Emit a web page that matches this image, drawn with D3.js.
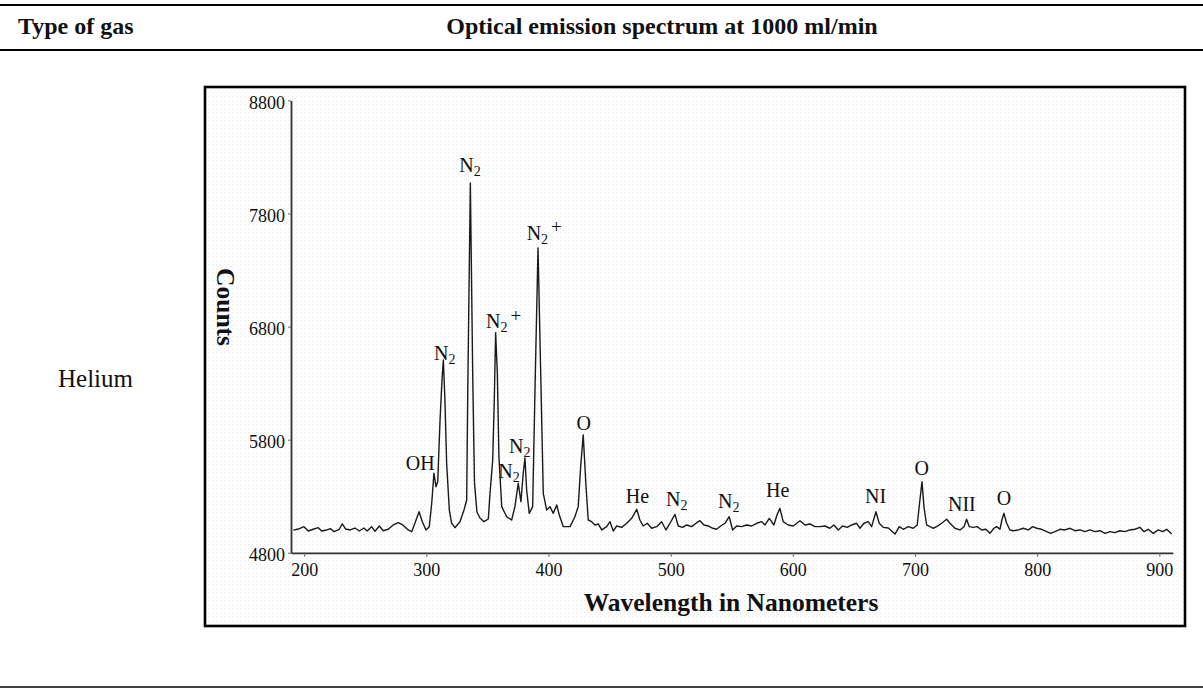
<!DOCTYPE html>
<html>
<head>
<meta charset="utf-8">
<script src="https://cdn.jsdelivr.net/npm/d3@7"></script>
<style>
  html, body { margin: 0; padding: 0; background: #ffffff; }
  svg { display: block; }
  text { font-family: "Liberation Serif", "Times New Roman", serif; fill: #111; }
</style>
</head>
<body>
<svg id="chart" width="1203" height="697"></svg>
<script>
// ---------------- data ----------------
const wavelengths = [
  191.1,195.2,199.8,203.4,207.4,211.5,214.3,218.4,221.7,224.4,
  228.7,231.2,234.0,237.5,241.6,245.1,248.9,251.6,255.2,258.0,
  261.5,264.7,268.8,272.9,277.0,280.6,285.2,288.0,290.7,294.0,
  296.7,299.7,302.4,304.4,306.2,307.9,309.3,311.2,312.8,313.9,
  315.2,316.6,318.8,320.7,323.4,327.5,330.8,333.0,333.9,336.0,
  338.0,339.4,341.4,343.9,347.2,350.7,352.1,354.3,355.6,356.7,
  358.1,359.4,361.7,365.7,369.8,372.5,375.2,377.4,379.3,380.7,
  382.1,384.2,387.0,389.2,391.4,393.6,395.7,398.5,401.2,403.9,
  406.7,408.8,412.1,417.6,421.6,424.3,426.3,428.4,430.7,432.5,
  435.3,438.0,440.7,443.5,447.6,450.3,453.0,455.8,459.9,464.0,
  468.1,472.2,474.8,477.5,480.8,484.4,488.5,492.6,496.1,499.4,
  503.5,506.2,509.8,513.1,517.2,521.3,524.0,527.2,530.8,534.4,
  537.6,540.9,544.4,547.9,550.7,554.0,558.1,562.2,566.3,570.4,
  574.5,577.2,580.7,584.5,587.0,589.4,592.1,596.2,600.3,605.8,
  609.9,614.0,618.1,622.2,626.3,630.3,633.6,637.2,640.7,644.5,
  648.1,652.2,654.9,658.2,661.7,664.5,668.0,670.7,674.0,
  678.1,683.6,687.1,690.4,694.5,698.5,701.8,704.0,705.7,707.3,
  709.5,712.2,714.9,717.7,721.8,725.9,728.6,732.7,736.8,740.1,
  742.2,744.4,747.6,750.9,754.5,758.0,761.3,764.6,766.8,769.5,
  771.1,772.8,775.0,777.7,780.4,784.5,788.6,792.7,796.3,799.6,
  803.6,807.7,811.0,814.5,818.6,822.7,826.8,830.9,835.0,839.1,
  843.2,847.3,851.4,855.5,859.6,863.6,867.7,871.8,875.9,880.0,
  884.1,887.4,890.9,895.0,899.1,902.7,906.0,910.1
];
const counts = [
  5000,5010,5031,4993,5008,5022,4993,5002,5013,4987,
  5008,5055,5010,5002,5019,4993,5019,4993,5031,4990,
  5037,4995,5008,5046,5066,5046,5002,4987,5063,5163,
  5075,5002,5031,5240,5503,5384,5429,5974,6328,6505,
  6151,5594,5178,5061,5022,5075,5178,5267,6239,8070,
  6328,5417,5161,5108,5075,5099,5326,5621,6151,6746,
  6387,5650,5208,5119,5090,5208,5415,5252,5503,5638,
  5355,5149,5208,6387,7495,6387,5326,5178,5208,5149,
  5223,5134,5031,5031,5119,5208,5561,5842,5384,5090,
  5075,5046,5055,5002,5031,5075,4993,5037,5025,5061,
  5105,5185,5090,5037,5061,5017,5031,5075,5002,5061,
  5140,5037,5025,5046,5031,5066,5084,5046,5037,5017,
  5008,5037,5061,5119,5002,5037,5031,5046,5037,5061,
  5075,5046,5105,5046,5134,5193,5075,5046,5037,5084,
  5046,5055,5031,5031,5037,5017,5046,5002,5037,5025,
  5046,5061,5017,5061,5075,5031,5163,5061,5025,
  5019,4966,5031,5008,5031,5017,5046,5267,5429,5208,
  5046,5031,5017,5031,5061,5096,5061,5017,5002,5031,
  5096,5031,5025,5031,5002,5008,4972,5017,5031,5008,
  5090,5149,5061,5002,4995,5002,5017,5002,5031,5017,
  5008,4987,4972,4987,5008,5002,5017,4995,5002,4987,
  5002,4987,4995,4972,4987,4978,4995,4987,5002,5008,
  5025,4987,5008,4972,5002,4987,5008,4966
];
const xTicks = [200, 300, 400, 500, 600, 700, 800, 900];
const yTicks = [4800, 5800, 6800, 7800, 8800];

// peak annotations: text, wavelength anchor, counts anchor (baseline)
const peakLabels = ["OH","N2","N2","N2+","N2","N2","N2+","O","He","N2","N2","He","NI","O","NII","O"];
const peakNm     = [283.1,306.2,327.0,348.8,358.9,367.6,382.1,428.8,463.2,496.1,538.7,578.0,659.0,705.4,727.0,772.8];
const peakCounts = [5532,6509,8170,6785,5459,5680,7566,5886,5240,5214,5196,5293,5240,5488,5170,5223];

const headerLeft = "Type of gas";
const headerRight = "Optical emission spectrum at 1000 ml/min";
const rowLabel = "Helium";
const xTitle = "Wavelength in Nanometers";
const yTitle = "Counts";

// ---------------- drawing ----------------
const svg = d3.select("#chart");
const W = 1203;

// table rules
svg.append("line").attr("x1", 0).attr("x2", W).attr("y1", 5).attr("y2", 5)
  .attr("stroke", "#000").attr("stroke-width", 2.2);
svg.append("line").attr("x1", 0).attr("x2", W).attr("y1", 50).attr("y2", 50)
  .attr("stroke", "#000").attr("stroke-width", 2.2);
svg.append("line").attr("x1", 0).attr("x2", W).attr("y1", 687).attr("y2", 687)
  .attr("stroke", "#000").attr("stroke-width", 1.4);

svg.append("text").attr("x", 18).attr("y", 34)
  .attr("font-size", 24).attr("font-weight", "bold").text(headerLeft);
svg.append("text").attr("x", 662).attr("y", 34).attr("text-anchor", "middle")
  .attr("font-size", 24).attr("font-weight", "bold").text(headerRight);
svg.append("text").attr("x", 58).attr("y", 387)
  .attr("font-size", 25).text(rowLabel);

// chart frame with faint texture
const defs = svg.append("defs");
const pat = defs.append("pattern").attr("id", "dots").attr("patternUnits", "userSpaceOnUse")
  .attr("width", 4).attr("height", 4);
pat.append("rect").attr("width", 4).attr("height", 4).attr("fill", "#ffffff");
pat.append("rect").attr("x", 0).attr("y", 0).attr("width", 1).attr("height", 1).attr("fill", "#e8e8e8");
pat.append("rect").attr("x", 2).attr("y", 2).attr("width", 1).attr("height", 1).attr("fill", "#efefef");

svg.append("rect").attr("x", 205).attr("y", 87).attr("width", 980).attr("height", 539)
  .attr("fill", "url(#dots)").attr("stroke", "#000").attr("stroke-width", 2.6);

// scales
const x = d3.scaleLinear().domain([189.2, 911]).range([291, 1172.8]);
const y = d3.scaleLinear().domain([4800, 8800]).range([552.8, 100.4]);

// axes
const gx = svg.append("g").attr("transform", `translate(0,${y(4800)})`)
  .call(d3.axisBottom(x).tickValues(xTicks).tickFormat(d3.format("d"))
    .tickSizeInner(4).tickSizeOuter(0).tickPadding(6));
const gy = svg.append("g").attr("transform", `translate(${x(189.2)},0)`)
  .call(d3.axisLeft(y).tickValues(yTicks).tickFormat(d3.format("d"))
    .tickSizeInner(3).tickSizeOuter(0).tickPadding(3));

[gx, gy].forEach(g => {
  g.select(".domain").attr("stroke", "#333").attr("stroke-width", 1.8);
  g.selectAll(".tick line").attr("stroke", "#666").attr("stroke-width", 1);
  g.selectAll(".tick text").attr("font-family", "Liberation Serif, serif")
    .attr("font-size", 18).attr("fill", "#111");
});
gy.selectAll(".tick text").attr("dy", "0.45em");
gx.selectAll(".tick text").attr("dy", "0.75em");

// axis titles
svg.append("text").attr("x", 731).attr("y", 611).attr("text-anchor", "middle")
  .attr("font-size", 25.5).attr("font-weight", "bold").text(xTitle);
svg.append("text").attr("transform", "translate(225,307) rotate(90)")
  .attr("text-anchor", "middle").attr("dominant-baseline", "central")
  .attr("font-size", 25.5).attr("font-weight", "bold").text(yTitle);

// spectrum line
const pts = wavelengths.map((w, i) => [w, counts[i]]);
svg.append("path").datum(pts)
  .attr("fill", "none").attr("stroke", "#1a1a1a").attr("stroke-width", 1.4)
  .attr("stroke-linejoin", "round")
  .attr("d", d3.line().x(d => x(d[0])).y(d => y(d[1])));

// peak labels
peakLabels.forEach((lab, i) => {
  const m = lab.match(/^([A-Za-z]+)(\d*)(\+?)$/);
  const t = svg.append("text")
    .attr("x", x(peakNm[i])).attr("y", y(peakCounts[i]))
    .attr("font-size", 20)
    .attr("text-anchor", lab === "O" ? "middle" : "start");
  t.append("tspan").text(m[1]);
  if (m[2]) t.append("tspan").attr("font-size", 14).attr("dy", 4).text(m[2]);
  if (m[3]) t.append("tspan").attr("font-size", 19).attr("dx", 3).attr("dy", -10.5).text(m[3]);
});
</script>
</body>
</html>
